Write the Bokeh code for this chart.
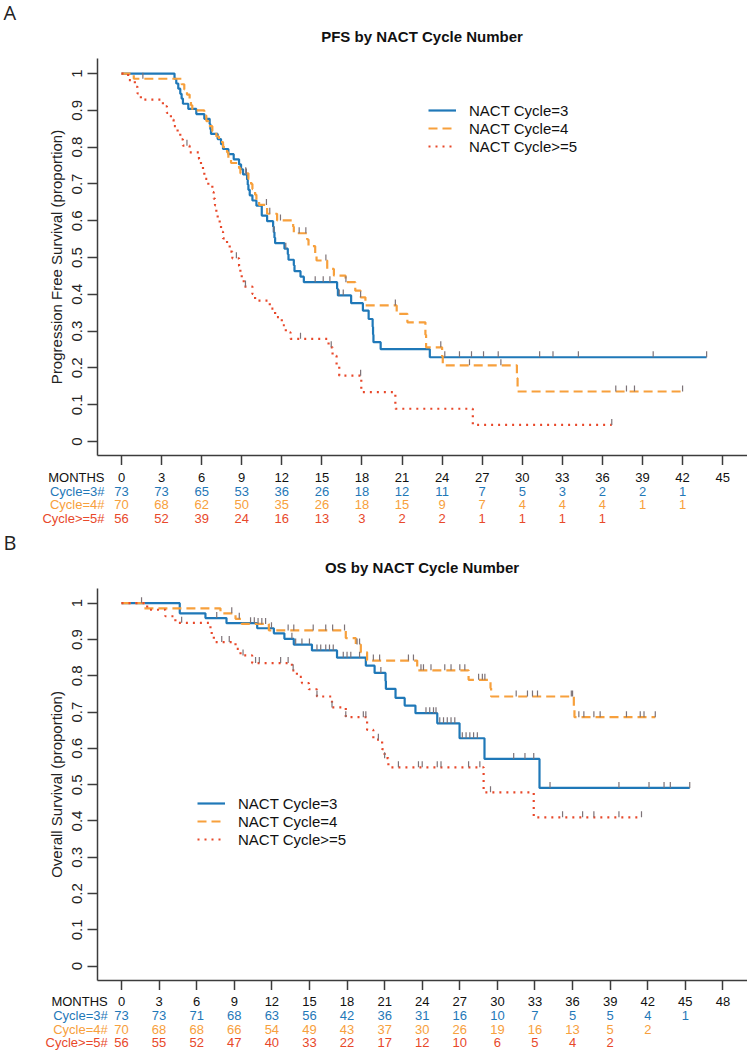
import numpy as np
from bokeh.plotting import figure
from bokeh.models import Range1d, FixedTicker, CustomJSTickFormatter, CustomLabelingPolicy
from bokeh.layouts import column
from bokeh.embed import file_html
from bokeh.resources import INLINE
from bokeh.core.properties import value

# ---------------- data ----------------
SERIES = ["NACT Cycle=3", "NACT Cycle=4", "NACT Cycle>=5"]
ROW_LABELS = ["MONTHS", "Cycle=3#", "Cycle=4#", "Cycle>=5#"]
Y_TICKS = [0, 0.1, 0.2, 0.3, 0.4, 0.5, 0.6, 0.7, 0.8, 0.9, 1]

# Panel A : PFS
PFS_C3_T = [0, 3.97, 4.1, 4.25, 4.4, 4.5, 4.6, 5.0, 5.6, 6.2, 6.6, 6.65, 6.7, 7.2, 7.45, 7.6, 8.0, 8.4, 8.8, 8.95,
            9.1, 9.4, 9.45, 9.5, 9.6, 9.8, 10.1, 10.5, 10.9, 11.35, 11.4, 11.45, 11.5, 12.2, 12.45, 12.5, 12.9,
            12.95, 13.4, 13.65, 16.14, 16.2, 17.19, 18.07, 18.5, 18.8, 18.83, 18.86, 19.4, 23.08, 43.8]
PFS_C3_S = [1, 0.986, 0.973, 0.959, 0.945, 0.932, 0.918, 0.904, 0.890, 0.877, 0.863, 0.849, 0.836, 0.822, 0.808,
            0.795, 0.781, 0.767, 0.753, 0.740, 0.726, 0.712, 0.698, 0.684, 0.669, 0.655, 0.641, 0.614, 0.599,
            0.584, 0.569, 0.554, 0.539, 0.524, 0.509, 0.494, 0.479, 0.463, 0.448, 0.433, 0.415, 0.397, 0.376,
            0.356, 0.333, 0.312, 0.291, 0.270, 0.251, 0.229, 0.229]
PFS_C3_CENS = [9.35, 11.4, 12.3, 14.5, 15.1, 15.6, 16.3, 16.6, 24.2, 25.3, 26.2, 27.1, 28.2, 31.3, 32.3, 34.2,
               39.8, 43.8]

PFS_C4_T = [0, 0.92, 4.5, 4.7, 4.9, 5.1, 5.2, 5.3, 6.2, 6.35, 6.5, 6.8, 7.1, 7.3, 7.6, 7.9, 8.0, 8.2, 8.8, 8.9,
            9.5, 9.7, 9.8, 10.0, 10.1, 10.3, 10.9, 11.65, 12.85, 12.9, 13.9, 14.0, 14.5, 14.6, 15.4, 15.9, 16.77,
            17.5, 17.9, 18.26, 20.6, 21.4, 22.75, 22.8, 24.0, 24.05, 29.6, 29.65, 42.0]
PFS_C4_S = [1, 0.986, 0.971, 0.957, 0.943, 0.929, 0.914, 0.900, 0.886, 0.871, 0.857, 0.843, 0.829, 0.814, 0.800,
            0.786, 0.771, 0.757, 0.743, 0.729, 0.714, 0.700, 0.686, 0.671, 0.657, 0.643, 0.619, 0.601, 0.584,
            0.566, 0.549, 0.531, 0.512, 0.492, 0.469, 0.451, 0.433, 0.410, 0.392, 0.370, 0.347, 0.324, 0.290,
            0.256, 0.232, 0.207, 0.172, 0.136, 0.136]
PFS_C4_CENS = [1.6, 9.3, 10.85, 11.1, 11.9, 13.3, 13.8, 15.3, 16.8, 17.9, 20.5, 23.9, 26.05, 28.4, 37.0, 37.8,
               38.4, 42.0]

PFS_C5_T = [0, 0.5, 1.0, 1.2, 1.45, 3.1, 3.4, 3.7, 3.9, 4.2, 4.4, 4.6, 5.1, 5.8, 5.95, 6.1, 6.2, 6.5, 6.8, 6.9,
            7.0, 7.1, 7.2, 7.35, 7.45, 7.6, 7.9, 8.1, 8.3, 8.8, 8.9, 9.0, 9.15, 9.8, 10.0, 11.1, 11.5, 12.0, 12.3,
            12.65, 15.5, 15.8, 16.1, 16.3, 17.95, 20.5, 26.3, 36.7]
PFS_C5_S = [1, 0.982, 0.964, 0.946, 0.929, 0.911, 0.893, 0.875, 0.857, 0.839, 0.821, 0.804, 0.786, 0.768, 0.750,
            0.732, 0.714, 0.696, 0.678, 0.660, 0.642, 0.624, 0.606, 0.588, 0.570, 0.552, 0.534, 0.516, 0.498,
            0.477, 0.458, 0.440, 0.421, 0.401, 0.383, 0.361, 0.338, 0.316, 0.297, 0.279, 0.256, 0.233, 0.206,
            0.179, 0.134, 0.089, 0.045, 0.045]
PFS_C5_CENS = [4.9, 8.6, 9.28, 13.4, 15.7, 17.9, 36.7]

MONTHS_A = [0, 3, 6, 9, 12, 15, 18, 21, 24, 27, 30, 33, 36, 39, 42, 45]
RISK_A_C3 = [73, 73, 65, 53, 36, 26, 18, 12, 11, 7, 5, 3, 2, 2, 1]
RISK_A_C4 = [70, 68, 62, 50, 35, 26, 18, 15, 9, 7, 4, 4, 4, 1, 1]
RISK_A_C5 = [56, 52, 39, 24, 16, 13, 3, 2, 2, 1, 1, 1, 1]

# Panel B : OS
OS_C3_T = [0, 4.65, 6.7, 8.38, 10.83, 12.16, 13.0, 13.75, 15.2, 17.2, 19.5, 20.2, 21.07, 21.1, 21.87, 22.6, 23.46,
           25.2, 26.98, 28.97, 33.36, 45.35]
OS_C3_S = [1, 0.972, 0.959, 0.945, 0.931, 0.917, 0.902, 0.886, 0.870, 0.850, 0.828, 0.808, 0.786, 0.764, 0.739,
           0.718, 0.697, 0.669, 0.628, 0.571, 0.491, 0.491]
OS_C3_CENS = [7.6, 10.3, 10.6, 11.97, 13.6, 13.9, 14.4, 15.0, 15.6, 15.9, 16.3, 16.6, 16.9, 17.7, 18.0, 18.3, 19.0,
              20.7, 24.3, 24.6, 24.9, 25.1, 25.4, 25.7, 26.0, 26.3, 26.6, 27.2, 27.5, 27.8, 28.1, 28.4, 31.3,
              32.2, 32.9, 34.2, 39.7, 42.1, 43.3, 43.8, 45.35]

OS_C4_T = [0, 1.78, 7.9, 9.1, 9.6, 11.76, 17.9, 18.7, 19.1, 19.6, 23.6, 27.7, 29.45, 29.5, 36.1, 36.15, 42.6]
OS_C4_S = [1, 0.986, 0.972, 0.957, 0.943, 0.925, 0.904, 0.886, 0.865, 0.842, 0.815, 0.789, 0.766, 0.743, 0.714,
           0.686, 0.686]
OS_C4_CENS = [1.6, 8.8, 9.4, 10.9, 11.2, 11.5, 13.3, 13.75, 15.3, 16.3, 16.85, 17.8, 18.8, 19.0, 20.1, 20.6, 22.9,
              23.3, 23.9, 24.1, 24.7, 25.8, 26.3, 27.0, 27.4, 28.5, 28.8, 29.0, 31.5, 32.4, 32.8, 33.2, 35.9,
              36.0, 36.5, 36.9, 37.7, 38.2, 40.3, 41.4, 41.7, 42.6]

OS_C5_T = [0, 2.05, 3.5, 4.3, 7.1, 7.2, 7.37, 9.1, 9.5, 10.43, 13.6, 14.0, 14.4, 14.95, 15.6, 16.8, 17.9, 19.6,
           20.1, 20.8, 21.0, 21.3, 28.9, 32.9, 41.5]
OS_C5_S = [1, 0.982, 0.964, 0.946, 0.929, 0.911, 0.893, 0.874, 0.856, 0.835, 0.815, 0.797, 0.780, 0.763, 0.743,
           0.713, 0.686, 0.651, 0.624, 0.598, 0.573, 0.548, 0.479, 0.410, 0.410]
OS_C5_CENS = [4.8, 8.0, 8.6, 9.7, 10.7, 11.0, 12.7, 13.3, 13.7, 15.6, 16.8, 17.9, 19.3, 19.5, 20.5, 21.0, 22.1,
              23.7, 24.0, 25.2, 25.5, 27.7, 28.6, 29.45, 35.2, 36.8, 37.7, 39.7, 41.5]

MONTHS_B = [0, 3, 6, 9, 12, 15, 18, 21, 24, 27, 30, 33, 36, 39, 42, 45, 48]
RISK_B_C3 = [73, 73, 71, 68, 63, 56, 42, 36, 31, 16, 10, 7, 5, 5, 4, 1]
RISK_B_C4 = [70, 68, 68, 66, 54, 49, 43, 37, 30, 26, 19, 16, 13, 5, 2]
RISK_B_C5 = [56, 55, 52, 47, 40, 33, 22, 17, 12, 10, 6, 5, 4, 2]

# ---------------- style ----------------
BLUE, ORANGE, RED = "#1f78b8", "#f7a03c", "#e8482a"
COLORS = [BLUE, ORANGE, RED]
DASHES = ["solid", "9 5", "2 5"]
FONT = "Liberation Sans"
W = 747
LEFT = 97           # frame left offset inside plot figures
FRAME_W = W - LEFT
AXIS_COL = "#3c3c3c"


def km_at(t, s, x):
    idx = np.searchsorted(np.asarray(t), x, side="right") - 1
    return np.asarray(s)[idx]


def bare(h, xr, yr):
    f = figure(width=W, height=h, x_range=xr, y_range=yr, x_axis_type=None, y_axis_type=None,
               output_backend="svg", toolbar_location=None, tools="", frame_align=False,
               min_border_left=0, min_border_right=0, min_border_top=0, min_border_bottom=0)
    f.outline_line_color = None
    f.xgrid.visible = False
    f.ygrid.visible = False
    return f


def header(h, letter, letter_y, title, title_y):
    f = bare(h, Range1d(0, W), Range1d(h, 0))
    f.text(x=[3], y=[letter_y], text=[letter], text_font=value("Open Sans"), text_font_size="20px",
           text_baseline="middle", text_align="left", text_color="#222222")
    f.text(x=[421.5], y=[title_y], text=[title], text_font=value(FONT), text_font_size="15px",
           text_font_style="bold", text_baseline="middle", text_align="center", text_color="#111111")
    return f


def km_plot(h, xr, yr, ylabel, months, curves, legend_loc, px_per_unit):
    p = figure(width=W, height=h, x_range=Range1d(*xr), y_range=Range1d(*yr),
               output_backend="svg", toolbar_location=None, tools="", frame_align=False,
               min_border_left=LEFT, min_border_right=0, min_border_top=0, min_border_bottom=10)
    p.outline_line_color = None
    p.xgrid.visible = False
    p.ygrid.visible = False
    for ax in (p.xaxis[0], p.yaxis[0]):
        ax.axis_line_color = AXIS_COL
        ax.axis_line_width = 1.5
        ax.major_tick_line_color = AXIS_COL
        ax.major_tick_line_width = 1.5
        ax.major_tick_in = 0
        ax.major_tick_out = 10
        ax.minor_tick_line_color = None
    p.xaxis.ticker = FixedTicker(ticks=months)
    # the month numbers are written in the table row below the axis
    p.xaxis.major_label_text_font_size = "0px"
    p.xaxis.major_label_standoff = 0
    p.xaxis.major_label_policy = CustomLabelingPolicy(code="return []")
    p.yaxis.ticker = FixedTicker(ticks=Y_TICKS)
    p.yaxis.formatter = CustomJSTickFormatter(code="return String(Math.round(tick*10)/10);")
    p.yaxis.major_label_orientation = "vertical"
    p.yaxis.major_label_text_font = FONT
    p.yaxis.major_label_text_font_size = "15px"
    p.yaxis.major_label_text_color = "#222222"
    p.yaxis.major_label_standoff = 5
    p.yaxis.axis_label = ylabel
    p.yaxis.axis_label_text_font = FONT
    p.yaxis.axis_label_text_font_size = "15px"
    p.yaxis.axis_label_text_font_style = "normal"
    p.yaxis.axis_label_text_color = "#222222"
    p.yaxis.axis_label_standoff = 5

    tick_len = 6.0 / px_per_unit
    for (t, s, cens), name, col, dash in zip(curves, SERIES, COLORS, DASHES):
        p.step(x=t, y=s, mode="after", line_color=col, line_width=2.2, line_dash=dash,
               legend_label=name)
    for (t, s, cens), col in zip(curves, COLORS):
        cy = km_at(t, s, cens)
        p.segment(x0=cens, y0=cy, x1=cens, y1=cy + tick_len, line_color="#7d7378", line_width=1.2)

    lg = p.legend[0]
    lg.location = legend_loc
    lg.border_line_color = None
    lg.background_fill_alpha = 0
    lg.padding = 0
    lg.margin = 0
    lg.spacing = 0
    lg.glyph_width = 28
    lg.glyph_height = 18
    lg.label_height = 18
    lg.label_standoff = 13
    lg.label_text_font = FONT
    lg.label_text_font_size = "15px"
    lg.label_text_color = "#111111"
    return p


def risk_table(h, xr, months, rows, row_y, label_x, font_size):
    span = xr[1] - xr[0]
    start = xr[0] - LEFT * span / FRAME_W
    f = bare(h, Range1d(start, xr[1]), Range1d(h, 0))
    f.text(x=[label_x] * 4, y=row_y, text=ROW_LABELS,
           text_color=["#111111", BLUE, ORANGE, RED], text_align="right", text_baseline="middle",
           text_font=value(FONT), text_font_size=font_size)
    f.text(x=months, y=[row_y[0]] * len(months), text=[str(m) for m in months], text_color="#111111",
           text_align="center", text_baseline="middle", text_font=value(FONT), text_font_size=font_size)
    for vals, yy, col in zip(rows, row_y[1:], COLORS):
        f.text(x=months[:len(vals)], y=[yy] * len(vals), text=[str(v) for v in vals], text_color=col,
               text_align="center", text_baseline="middle", text_font=value(FONT), text_font_size=font_size)
    return f


# ---------------- panel A ----------------
XA = (-1.796, 46.86)
YA = (-0.038, 1.041)
hdrA = header(58, "A", 12, "PFS by NACT Cycle Number", 35.5)
plotA = km_plot(407, XA, YA, "Progression Free Survival (proportion)", MONTHS_A,
                [(PFS_C3_T, PFS_C3_S, PFS_C3_CENS), (PFS_C4_T, PFS_C4_S, PFS_C4_CENS),
                 (PFS_C5_T, PFS_C5_S, PFS_C5_CENS)], (331, 300), 368.0)
riskA = risk_table(65, XA, MONTHS_A, [RISK_A_C3, RISK_A_C4, RISK_A_C5], [12, 25.7, 39.2, 52.5], -1.27, "13px")

# ---------------- panel B ----------------
XB = (-1.915, 49.96)
YB = (-0.0394, 1.0405)
hdrB = header(58, "B", 12, "OS by NACT Cycle Number", 36.5)
plotB = km_plot(402, XB, YB, "Overall Survival (proportion)", MONTHS_B,
                [(OS_C3_T, OS_C3_S, OS_C3_CENS), (OS_C4_T, OS_C4_S, OS_C4_CENS),
                 (OS_C5_T, OS_C5_S, OS_C5_CENS)], (100, 132), 363.0)
riskB = risk_table(60, XB, MONTHS_B, [RISK_B_C3, RISK_B_C4, RISK_B_C5], [11, 25, 38.7, 52], -1.1, "13px")

layout = column(hdrA, plotA, riskA, hdrB, plotB, riskB, spacing=0)
open("out.html", "w").write(file_html(layout, INLINE))
